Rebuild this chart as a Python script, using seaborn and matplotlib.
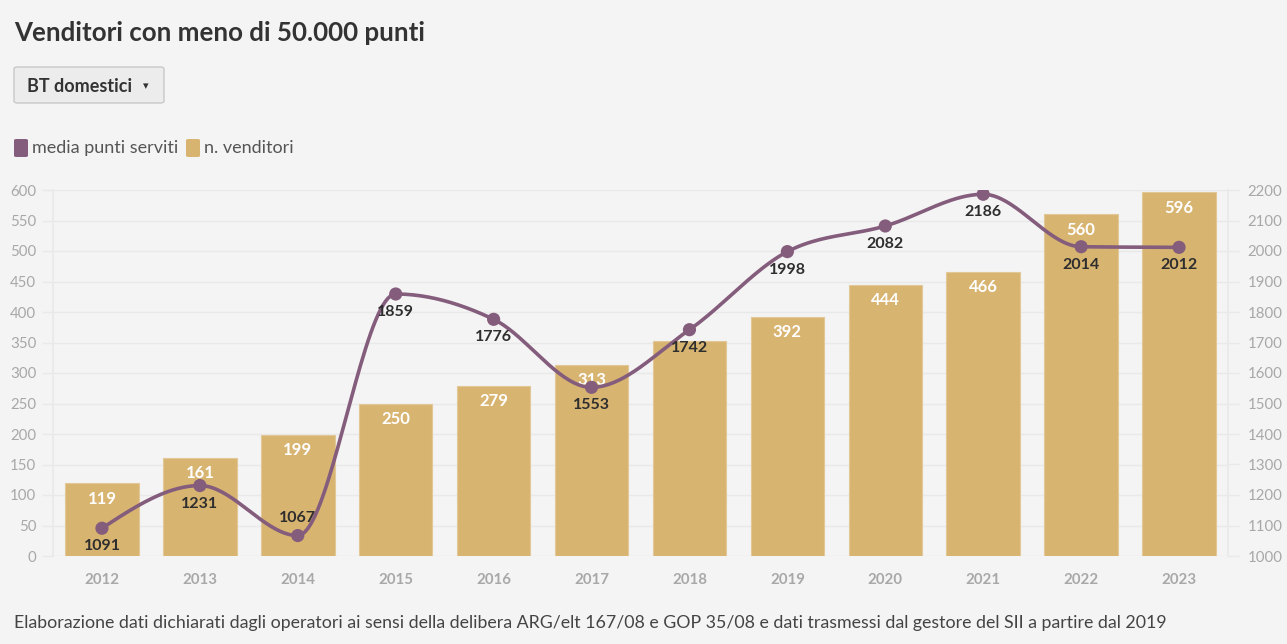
import matplotlib
matplotlib.use('Agg')
import matplotlib.pyplot as plt
import matplotlib.patches as mpatches
import seaborn as sns
import numpy as np
import pandas as pd

# data
years = ['2012', '2013', '2014', '2015', '2016', '2017',
         '2018', '2019', '2020', '2021', '2022', '2023']
n_venditori = [119, 161, 199, 250, 279, 313, 353, 392, 444, 466, 560, 596]
media_punti = [1091, 1231, 1067, 1859, 1776, 1553, 1742, 1998, 2082, 2186, 2014, 2012]
# which line labels go above the point instead of below
label_above = [False, False, True, False, False, False,
               False, False, False, False, False, False]
# bar labels hidden in the original (collision with the line label)
bar_label_hidden = [False, False, False, False, False, False,
                    True, False, False, False, False, False]

BG = '#f4f4f4'
BAR = '#d8b471'
LINE = '#845c7c'
GRID = '#e9e9e9'
TICK = '#a8a8a8'

sns.set_theme(style='white')
plt.rcParams['font.family'] = ['Lato', 'DejaVu Sans']

df = pd.DataFrame({'anno': years, 'venditori': n_venditori, 'media': media_punti})


def monotone_curve(y, n=40):
    """Monotone cubic (d3 curveMonotoneX style) through unit-spaced points."""
    y = np.asarray(y, dtype=float)
    s = np.diff(y)
    t = np.zeros_like(y)
    for i in range(1, len(y) - 1):
        s0, s1 = s[i - 1], s[i]
        if s0 * s1 <= 0:
            t[i] = 0.0
        else:
            p = (s0 + s1) / 2
            t[i] = (np.sign(s0) + np.sign(s1)) * min(abs(s0), abs(s1), 0.5 * abs(p))
    t[0] = (3 * s[0] - t[1]) / 2
    t[-1] = (3 * s[-1] - t[-2]) / 2
    xs, ys = [], []
    for i in range(len(y) - 1):
        u = np.linspace(0, 1, n)
        h00 = 2 * u**3 - 3 * u**2 + 1
        h10 = u**3 - 2 * u**2 + u
        h01 = -2 * u**3 + 3 * u**2
        h11 = u**3 - u**2
        xs.append(i + u)
        ys.append(h00 * y[i] + h10 * t[i] + h01 * y[i + 1] + h11 * t[i + 1])
    return np.concatenate(xs), np.concatenate(ys)


fig = plt.figure(figsize=(12.87, 6.44), dpi=100, facecolor=BG)
ax = fig.add_axes([53 / 1287, 1 - 556 / 644, (1228 - 53) / 1287, (556 - 190) / 644])
ax.set_facecolor(BG)

# bars: n. venditori
sns.barplot(data=df, x='anno', y='venditori', color=BAR, width=0.75,
            saturation=1, edgecolor='#e2c797', linewidth=0.8, ax=ax, zorder=2)
ax.set_xlim(-0.5, 11.5)
ax.set_ylim(0, 600)
ax.set_yticks(np.arange(0, 601, 50))
ax.yaxis.grid(True, color=GRID, linewidth=1)
ax.set_axisbelow(True)
ax.set_xlabel('')
ax.set_ylabel('')
for sp in ax.spines.values():
    sp.set_visible(False)
ax.spines['left'].set_visible(True)
ax.spines['left'].set_color(GRID)
ax.tick_params(axis='y', colors=TICK, labelsize=10.8, length=8, width=1,
               color=GRID, pad=4)
ax.tick_params(axis='x', colors=TICK, labelsize=10.8, length=6, width=1,
               color=GRID, pad=6)
for lbl in ax.get_xticklabels():
    lbl.set_fontweight('bold')

for i, v in enumerate(n_venditori):
    if bar_label_hidden[i]:
        continue
    ax.annotate(str(v), (i, v), xytext=(0, -11), textcoords='offset points',
                ha='center', va='center', color='white', fontsize=12,
                fontweight='bold', zorder=3)

# line: media punti serviti
ax2 = ax.twinx()
ax2.patch.set_visible(False)
ax2.set_ylim(1000, 2200)
ax2.set_yticks(np.arange(1000, 2201, 100))
for sp in ax2.spines.values():
    sp.set_visible(False)
ax2.spines['right'].set_visible(True)
ax2.spines['right'].set_color(GRID)
ax2.tick_params(axis='y', colors=TICK, labelsize=10.8, length=8, width=1,
                color=GRID, pad=6)

cx, cy = monotone_curve(media_punti)
ax2.plot(cx, cy, color=LINE, linewidth=2.6, zorder=4, solid_capstyle='round')
sns.scatterplot(x=np.arange(len(years)), y=media_punti, color=LINE, s=90,
                edgecolor='none', ax=ax2, zorder=5)
ax2.set_ylabel('')

for i, v in enumerate(media_punti):
    dy = 12.5 if label_above[i] else -13
    ax2.annotate(str(v), (i, v), xytext=(0, dy), textcoords='offset points',
                 ha='center', va='center', color='#2e2e2e', fontsize=11.5,
                 fontweight='bold', zorder=6)

# title
fig.text(14 / 1287, 1 - 33 / 644, 'Venditori con meno di 50.000 punti',
         fontsize=18.6, fontweight='bold', color='#333333', va='center', ha='left')

# dropdown-like button
btn = mpatches.FancyBboxPatch((14 / 1287, 1 - 103 / 644), 150 / 1287, 36 / 644,
                              boxstyle='round,pad=0,rounding_size=0.003',
                              transform=fig.transFigure, facecolor='#ececec',
                              edgecolor='#c8c8c8', linewidth=1)
fig.add_artist(btn)
fig.text(27 / 1287, 1 - 86 / 644, 'BT domestici', fontsize=13,
         fontweight='bold', color='#333333', va='center', ha='left')
fig.text(143 / 1287, 1 - 86 / 644, '▾', fontsize=8, color='#333333',
         va='center', ha='left', family=['DejaVu Sans'])

# legend
for x0, col, txt in [(14, LINE, 'media punti serviti'), (186, BAR, 'n. venditori')]:
    sq = mpatches.FancyBboxPatch((x0 / 1287, 1 - 157 / 644), 14 / 1287, 18 / 644,
                                 boxstyle='round,pad=0,rounding_size=0.002',
                                 transform=fig.transFigure, facecolor=col,
                                 edgecolor='none')
    fig.add_artist(sq)
    fig.text((x0 + 18) / 1287, 1 - 148 / 644, txt, fontsize=13,
             color='#555555', va='center', ha='left')

# footnote
fig.text(14 / 1287, 1 - 623 / 644,
         'Elaborazione dati dichiarati dagli operatori ai sensi della delibera '
         'ARG/elt 167/08 e GOP 35/08 e dati trasmessi dal gestore del SII a partire dal 2019',
         fontsize=12.8, color='#444444', va='center', ha='left')

fig.savefig('out.png', dpi=100, facecolor=BG)
plt.close(fig)
